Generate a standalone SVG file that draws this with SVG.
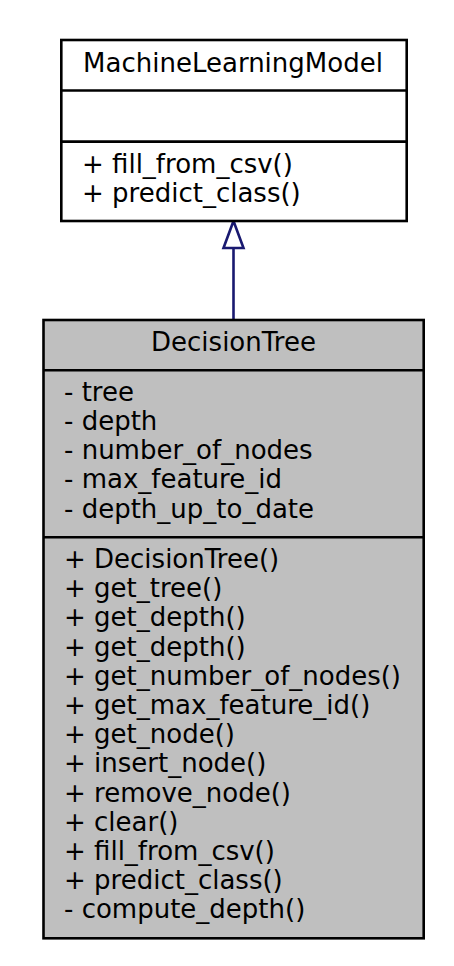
<svg xmlns="http://www.w3.org/2000/svg" width="454" height="966" viewBox="0 0 454 966">
<style>
text{font-family:"DejaVu Sans",sans-serif;font-size:26px;fill:#000}
.box{stroke:#000;stroke-width:2.6}
.mid{text-anchor:middle}
.edge{stroke:#191970;stroke-width:2.6;fill:none}
.head{stroke:#191970;stroke-width:2.6;fill:#fff}
</style>
<rect width="454" height="966" fill="#fff"/>
<g id="connectors">
<line class="edge" x1="233.5" y1="248" x2="233.5" y2="320"/>
<polygon class="head" points="233.5,221 223.5,248 243.5,248"/>
</g>
<g id="MachineLearningModel">
<rect class="box" x="61.3" y="40" width="345.4" height="181" fill="#fff"/>
<line class="box" x1="61.3" y1="90.5" x2="406.7" y2="90.5"/>
<line class="box" x1="61.3" y1="141.6" x2="406.7" y2="141.6"/>
<text class="mid" x="233" y="72">MachineLearningModel</text>
<text x="82" y="173">+ fill_from_csv()</text>
<text x="82" y="202.2">+ predict_class()</text>
</g>
<g id="DecisionTree">
<rect class="box" x="43.5" y="320" width="380.2" height="618.3" fill="#bfbfbf"/>
<line class="box" x1="43.5" y1="370.3" x2="423.7" y2="370.3"/>
<line class="box" x1="43.5" y1="537.3" x2="423.7" y2="537.3"/>
<text class="mid" x="233.5" y="351">DecisionTree</text>
<text x="64" y="400.7">- tree</text>
<text x="64" y="429.9">- depth</text>
<text x="64" y="459.1">- number_of_nodes</text>
<text x="64" y="488.3">- max_feature_id</text>
<text x="64" y="517.5">- depth_up_to_date</text>
<text x="64" y="568">+ DecisionTree()</text>
<text x="64" y="597.2">+ get_tree()</text>
<text x="64" y="626.4">+ get_depth()</text>
<text x="64" y="655.6">+ get_depth()</text>
<text x="64" y="684.8">+ get_number_of_nodes()</text>
<text x="64" y="714">+ get_max_feature_id()</text>
<text x="64" y="743.2">+ get_node()</text>
<text x="64" y="772.4">+ insert_node()</text>
<text x="64" y="801.6">+ remove_node()</text>
<text x="64" y="830.8">+ clear()</text>
<text x="64" y="860">+ fill_from_csv()</text>
<text x="64" y="889.2">+ predict_class()</text>
<text x="64" y="918.4">- compute_depth()</text>
</g>
</svg>
